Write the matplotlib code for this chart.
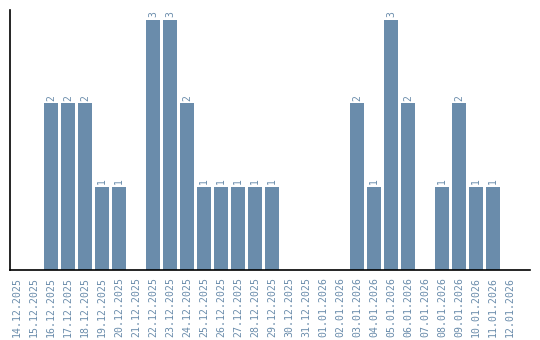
import matplotlib
matplotlib.use("Agg")
import matplotlib.pyplot as plt

dates = [
    "14.12.2025", "15.12.2025", "16.12.2025", "17.12.2025", "18.12.2025",
    "19.12.2025", "20.12.2025", "21.12.2025", "22.12.2025", "23.12.2025",
    "24.12.2025", "25.12.2025", "26.12.2025", "27.12.2025", "28.12.2025",
    "29.12.2025", "30.12.2025", "31.12.2025", "01.01.2026", "02.01.2026",
    "03.01.2026", "04.01.2026", "05.01.2026", "06.01.2026", "07.01.2026",
    "08.01.2026", "09.01.2026", "10.01.2026", "11.01.2026", "12.01.2026",
]
counts = [0, 0, 2, 2, 2, 1, 1, 0, 3, 3,
          2, 1, 1, 1, 1, 1, 0, 0, 0, 0,
          2, 1, 3, 2, 0, 1, 2, 1, 1, 0]

BLUE = "#6a8cab"

fig = plt.figure(figsize=(5.4, 3.4), dpi=100)
ax = fig.add_axes([0.0194, 0.206, 0.963, 0.765])

x = range(len(dates))
ax.bar(x, counts, width=0.82, color=BLUE)
for xi, c in zip(x, counts):
    if c > 0:
        ax.text(xi, c + 0.03, str(c), rotation=90, ha="center", va="bottom",
                fontsize=7, color=BLUE, family="DejaVu Sans Mono")

ax.set_xlim(-0.38, 30.2)
ax.set_ylim(0, 3.12)
ax.set_xticks(list(x))
ax.set_xticklabels(dates, rotation=90, fontsize=7.1, color=BLUE,
                   family="DejaVu Sans Mono")
ax.set_yticks([])
ax.tick_params(axis="x", length=0, pad=5)
for s in ["top", "right"]:
    ax.spines[s].set_visible(False)
ax.spines["left"].set_linewidth(1.2)
ax.spines["bottom"].set_linewidth(1.2)

fig.savefig("out.png", dpi=100)
